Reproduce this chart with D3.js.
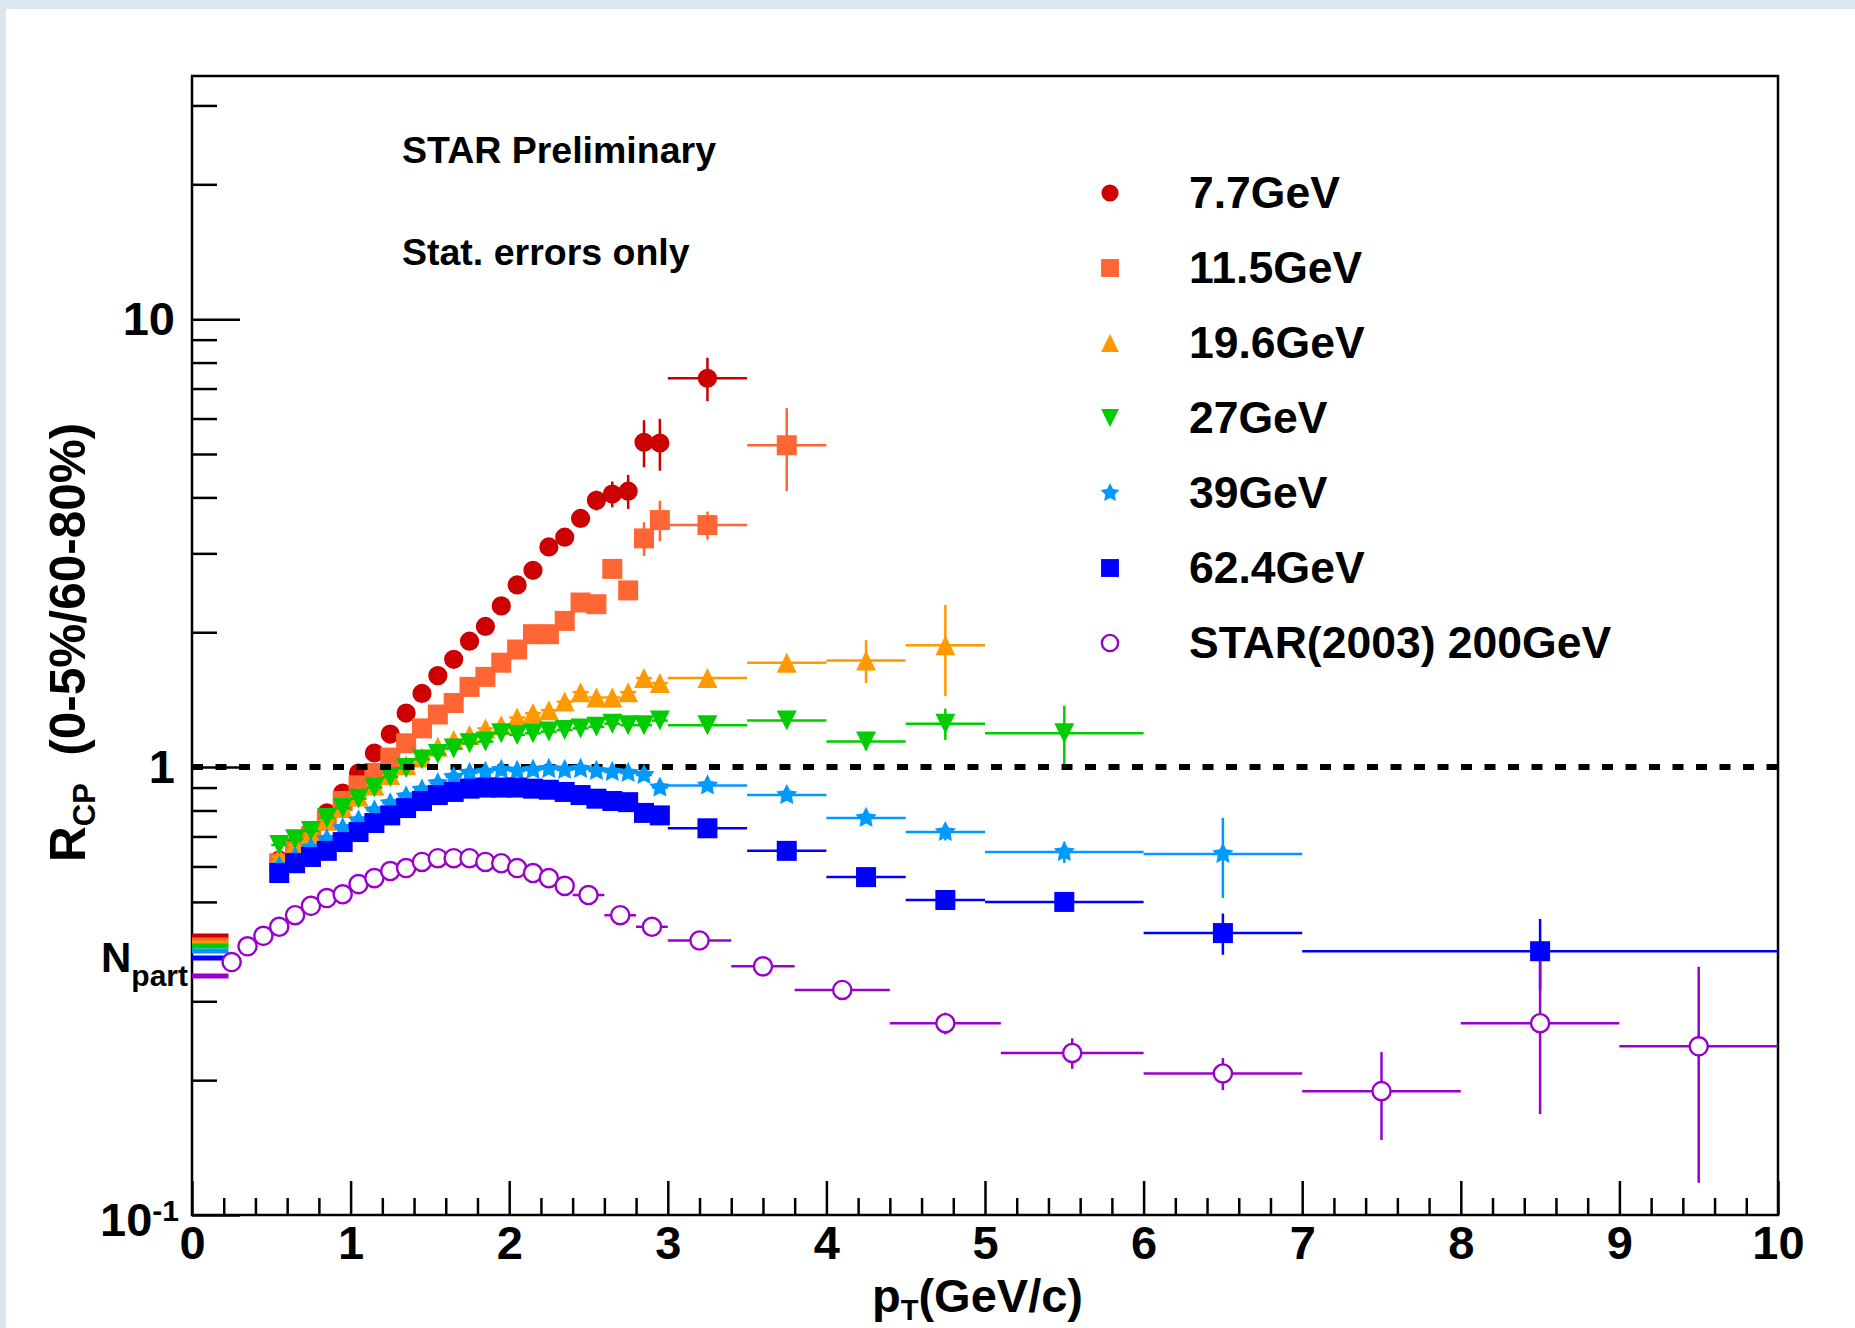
<!DOCTYPE html>
<html>
<head>
<meta charset="utf-8">
<title>R_CP vs pT</title>
<script src="https://cdnjs.cloudflare.com/ajax/libs/d3/7.8.5/d3.min.js"></script>
<style>
  body { margin: 0; background: #fff; }
  svg { display: block; font-family: "Liberation Sans", Arial, Helvetica, sans-serif; font-weight: bold; }
  .pre { white-space: pre; }
</style>
</head>
<body>
<div id="chart"></div>
<script>

// pT bin centres and half widths for the BES energies
var ptBES = [0.55, 0.65, 0.75, 0.85, 0.95, 1.05, 1.15, 1.25, 1.35, 1.45, 1.55, 1.65, 1.75, 1.85, 1.95,
             2.05, 2.15, 2.25, 2.35, 2.45, 2.55, 2.65, 2.75, 2.85, 2.95, 3.25, 3.75, 4.25, 4.75, 5.5, 6.5, 8.5];
var exBES = [0.05, 0.05, 0.05, 0.05, 0.05, 0.05, 0.05, 0.05, 0.05, 0.05, 0.05, 0.05, 0.05, 0.05, 0.05,
             0.05, 0.05, 0.05, 0.05, 0.05, 0.05, 0.05, 0.05, 0.05, 0.05, 0.25, 0.25, 0.25, 0.25, 0.5, 0.5, 1.5];

var rcp77  = [0.62, 0.67, 0.72, 0.79, 0.875, 0.97, 1.075, 1.185, 1.32, 1.46, 1.60, 1.74, 1.91, 2.06, 2.29,
              2.55, 2.75, 3.10, 3.26, 3.59, 3.94, 4.07, 4.13, 5.31, 5.29, 7.38];
var err77  = [0.01, 0.01, 0.01, 0.012, 0.013, 0.015, 0.017, 0.02, 0.022, 0.025, 0.03, 0.033, 0.04, 0.045, 0.05,
              0.06, 0.07, 0.08, 0.1, 0.13, 0.2, 0.27, 0.36, 0.64, 0.7, 0.82];

var rcp115 = [0.61, 0.65, 0.70, 0.76, 0.84, 0.91, 0.97, 1.05, 1.13, 1.22, 1.31, 1.39, 1.51, 1.59, 1.71,
              1.83, 1.98, 1.98, 2.12, 2.33, 2.31, 2.77, 2.48, 3.24, 3.56, 3.47, 5.23];
var err115 = [0.01, 0.01, 0.01, 0.01, 0.012, 0.013, 0.015, 0.017, 0.02, 0.022, 0.025, 0.028, 0.03, 0.035, 0.04,
              0.045, 0.05, 0.06, 0.07, 0.08, 0.09, 0.1, 0.12, 0.28, 0.37, 0.25, 1.1];

var rcp196 = [0.63, 0.67, 0.71, 0.76, 0.81, 0.86, 0.91, 0.96, 1.01, 1.05, 1.11, 1.15, 1.18, 1.22, 1.24,
              1.29, 1.32, 1.34, 1.40, 1.47, 1.43, 1.43, 1.47, 1.58, 1.54, 1.58, 1.71, 1.73, 1.87];
var err196 = [0.008, 0.008, 0.008, 0.009, 0.009, 0.01, 0.01, 0.011, 0.012, 0.013, 0.014, 0.015, 0.016, 0.017, 0.018,
              0.02, 0.022, 0.024, 0.026, 0.03, 0.032, 0.035, 0.04, 0.045, 0.05, 0.04, 0.06, 0.19, 0.43];

var rcp27  = [0.67, 0.69, 0.72, 0.77, 0.81, 0.85, 0.90, 0.95, 0.995, 1.04, 1.07, 1.10, 1.13, 1.14, 1.19,
              1.18, 1.19, 1.20, 1.21, 1.22, 1.23, 1.25, 1.24, 1.24, 1.27, 1.24, 1.27, 1.14, 1.25, 1.19];
var err27  = [0.006, 0.006, 0.006, 0.007, 0.007, 0.008, 0.008, 0.009, 0.009, 0.01, 0.01, 0.011, 0.012, 0.012, 0.013,
              0.014, 0.015, 0.016, 0.017, 0.018, 0.02, 0.022, 0.024, 0.026, 0.03, 0.025, 0.035, 0.05, 0.1, 0.18];

var rcp39  = [0.60, 0.63, 0.66, 0.69, 0.73, 0.76, 0.80, 0.83, 0.86, 0.89, 0.92, 0.95, 0.97, 0.975, 0.985,
              0.98, 0.985, 0.99, 0.985, 0.99, 0.98, 0.975, 0.97, 0.96, 0.90, 0.91, 0.866, 0.77, 0.716, 0.646, 0.64];
var err39  = [0.005, 0.005, 0.005, 0.005, 0.005, 0.005, 0.005, 0.006, 0.006, 0.006, 0.006, 0.007, 0.007, 0.007, 0.008,
              0.008, 0.008, 0.009, 0.009, 0.01, 0.01, 0.011, 0.012, 0.013, 0.014, 0.012, 0.015, 0.02, 0.03, 0.035, 0.13];

var rcp624 = [0.58, 0.61, 0.63, 0.65, 0.68, 0.716, 0.75, 0.78, 0.81, 0.84, 0.866, 0.88, 0.895, 0.90, 0.90,
              0.90, 0.895, 0.89, 0.88, 0.866, 0.85, 0.84, 0.835, 0.79, 0.78, 0.73, 0.65, 0.568, 0.505, 0.50, 0.426, 0.388];
var err624 = [0.004, 0.004, 0.004, 0.004, 0.004, 0.004, 0.005, 0.005, 0.005, 0.005, 0.005, 0.006, 0.006, 0.006, 0.006,
              0.007, 0.007, 0.007, 0.008, 0.008, 0.008, 0.009, 0.009, 0.01, 0.01, 0.01, 0.012, 0.014, 0.016, 0.018, 0.045, 0.07];

// STAR 2003, 200 GeV
var pt200  = [0.25, 0.35, 0.45, 0.55, 0.65, 0.75, 0.85, 0.95, 1.05, 1.15, 1.25, 1.35, 1.45, 1.55, 1.65, 1.75, 1.85,
              1.95, 2.05, 2.15, 2.25, 2.35, 2.5, 2.7, 2.9, 3.2, 3.6, 4.1, 4.75, 5.55, 6.5, 7.5, 8.5, 9.5];
var ex200  = [0.05, 0.05, 0.05, 0.05, 0.05, 0.05, 0.05, 0.05, 0.05, 0.05, 0.05, 0.05, 0.05, 0.05, 0.05, 0.05, 0.05,
              0.05, 0.05, 0.05, 0.05, 0.05, 0.1, 0.1, 0.1, 0.2, 0.2, 0.3, 0.35, 0.45, 0.5, 0.5, 0.5, 0.5];
var rcp200 = [0.367, 0.398, 0.42, 0.44, 0.467, 0.49, 0.51, 0.52, 0.548, 0.565, 0.586, 0.595, 0.614, 0.626, 0.626, 0.626, 0.614,
              0.61, 0.595, 0.58, 0.565, 0.543, 0.518, 0.467, 0.44, 0.41, 0.359, 0.318, 0.268, 0.230, 0.207, 0.189, 0.268, 0.238];
var err200 = [0.006, 0.006, 0.006, 0.006, 0.006, 0.006, 0.006, 0.006, 0.006, 0.006, 0.006, 0.007, 0.007, 0.007, 0.007, 0.007, 0.007,
              0.008, 0.008, 0.008, 0.008, 0.009, 0.01, 0.012, 0.012, 0.012, 0.014, 0.014, 0.015, 0.018, 0.017, 0.042, 0.1, 0.12];

// Npart scaling levels shown on the left edge
var npart = [0.4195, 0.411, 0.4047, 0.3984, 0.3883, 0.3746, 0.3415];

var labels = ["7.7GeV", "11.5GeV", "19.6GeV", "27GeV", "39GeV", "62.4GeV", "STAR(2003) 200GeV"];
var xTicks = [0, 1, 2, 3, 4, 5, 6, 7, 8, 9, 10];
var yTicks = [0.1, 1, 10];
var yMinor = [0.2, 0.3, 0.4, 0.5, 0.6, 0.7, 0.8, 0.9, 2, 3, 4, 5, 6, 7, 8, 9, 20, 30];

var W = 1855, H = 1328;
var x = d3.scaleLinear().domain([0, 10]).range([192, 1778]);
var y = d3.scaleLog().domain([0.1, 34.9]).range([1215, 76]);

// ROOT style markers: triangles with width == height, a fat five point star
var triUp = { draw: function (ctx, size) {
  var r = Math.sqrt(size) / 2;
  ctx.moveTo(-r, r); ctx.lineTo(r, r); ctx.lineTo(0, -r); ctx.closePath();
}};
var triDown = { draw: function (ctx, size) {
  var r = Math.sqrt(size) / 2;
  ctx.moveTo(-r, -r); ctx.lineTo(r, -r); ctx.lineTo(0, r); ctx.closePath();
}};
var fatStar = { draw: function (ctx, size) {
  var r = Math.sqrt(size) / 2, ri = r * 0.5;
  for (var k = 0; k < 10; k++) {
    var a = -Math.PI / 2 + k * Math.PI / 5, rr = k % 2 ? ri : r;
    if (k === 0) ctx.moveTo(rr * Math.cos(a), rr * Math.sin(a));
    else ctx.lineTo(rr * Math.cos(a), rr * Math.sin(a));
  }
  ctx.closePath();
}};

var series = [
  { label: labels[0], pt: ptBES, ex: exBES, v: rcp77,  ey: err77,  color: "#cc0000", type: d3.symbolCircle, size: 290 },
  { label: labels[1], pt: ptBES, ex: exBES, v: rcp115, ey: err115, color: "#ff6633", type: d3.symbolSquare, size: 400 },
  { label: labels[2], pt: ptBES, ex: exBES, v: rcp196, ey: err196, color: "#ff9900", type: triUp,   size: 400 },
  { label: labels[3], pt: ptBES, ex: exBES, v: rcp27,  ey: err27,  color: "#00cc00", type: triDown, size: 400 },
  { label: labels[4], pt: ptBES, ex: exBES, v: rcp39,  ey: err39,  color: "#0099ff", type: fatStar, size: 500 },
  { label: labels[5], pt: ptBES, ex: exBES, v: rcp624, ey: err624, color: "#0000ff", type: d3.symbolSquare, size: 400 },
  { label: labels[6], pt: pt200, ex: ex200, v: rcp200, ey: err200, color: "#9900cc", type: d3.symbolCircle, size: 260, open: true }
];

var svg = d3.select("#chart").append("svg")
    .attr("width", W)
    .attr("height", H);

svg.append("rect").attr("width", W).attr("height", H).attr("fill", "#dce6f1");
svg.append("rect").attr("x", 6).attr("y", 9).attr("width", W - 6).attr("height", H - 9).attr("fill", "#ffffff");

// axes
function styleAxis(g) {
  g.select(".domain").remove();
  g.selectAll(".tick line").attr("stroke", "#000").attr("stroke-width", 2.5);
  g.selectAll(".tick text").attr("fill", "#000").style("font-size", "47px");
}

svg.append("g")
    .attr("transform", "translate(0,1215)")
    .call(d3.axisBottom(x).tickValues(d3.range(0, 10.001, 0.2).filter(function (d) {
      return Math.abs(d - Math.round(d)) > 0.01; })).tickSize(-17).tickFormat(""))
    .call(styleAxis);

svg.append("g")
    .attr("transform", "translate(0,1215)")
    .call(d3.axisBottom(x).tickValues(xTicks).tickSize(-34).tickPadding(11).tickFormat(d3.format("d")))
    .call(styleAxis);

svg.append("g")
    .attr("transform", "translate(192,0)")
    .call(d3.axisLeft(y).tickValues(yMinor).tickSize(-25).tickFormat(""))
    .call(styleAxis);

svg.append("g")
    .attr("transform", "translate(192,0)")
    .call(d3.axisLeft(y).tickValues(yTicks).tickSize(-48).tickPadding(17)
      .tickFormat(function (d) { return d < 1 ? "" : d3.format("d")(d); }))
    .call(styleAxis);

// 10^-1 label
var lab01 = svg.append("text")
    .attr("x", 100)
    .attr("y", 1236)
    .style("font-size", "47px");
lab01.append("tspan").text("10");
lab01.append("tspan").attr("dy", -15).style("font-size", "30px").text("-1");

// frame
svg.append("rect")
    .attr("x", x(0)).attr("y", y.range()[1])
    .attr("width", x(10) - x(0)).attr("height", y.range()[0] - y.range()[1])
    .attr("fill", "none").attr("stroke", "#000").attr("stroke-width", 2.5);

// Npart levels
svg.selectAll(".npart")
    .data(npart)
    .enter().append("line")
    .attr("x1", x(0)).attr("x2", x(0.23))
    .attr("y1", function (d) { return y(d); })
    .attr("y2", function (d) { return y(d); })
    .attr("stroke", function (d, i) { return series[i].color; })
    .attr("stroke-width", 5);

function drawSeries(s) {
  var pts = s.v.map(function (v, i) { return { pt: s.pt[i], ex: s.ex[i], v: v, ey: s.ey[i] }; });
  var g = svg.append("g");

  g.selectAll(".ex").data(pts).enter().append("line")
      .attr("x1", function (d) { return x(d.pt - d.ex); })
      .attr("x2", function (d) { return x(d.pt + d.ex); })
      .attr("y1", function (d) { return y(d.v); })
      .attr("y2", function (d) { return y(d.v); })
      .attr("stroke", s.color).attr("stroke-width", 2.5);

  g.selectAll(".ey").data(pts).enter().append("line")
      .attr("x1", function (d) { return x(d.pt); })
      .attr("x2", function (d) { return x(d.pt); })
      .attr("y1", function (d) { return y(d.v + d.ey); })
      .attr("y2", function (d) { return y(d.v - d.ey); })
      .attr("stroke", s.color).attr("stroke-width", 2.5);

  g.selectAll(".marker").data(pts).enter().append("path")
      .attr("d", d3.symbol().type(s.type).size(s.size))
      .attr("transform", function (d) { return "translate(" + x(d.pt) + "," + y(d.v) + ")"; })
      .attr("fill", s.open ? "#fff" : s.color)
      .attr("stroke", s.open ? s.color : "none")
      .attr("stroke-width", 2.4);
}

series.slice(0, 4).forEach(drawSeries);

// reference line at R_CP = 1
svg.append("line")
    .attr("x1", x(0)).attr("x2", x(10))
    .attr("y1", y(1)).attr("y2", y(1))
    .attr("stroke", "#000")
    .attr("stroke-width", 6)
    .attr("stroke-dasharray", "11 12.5");

series.slice(4).forEach(drawSeries);

// legend
var legend = svg.append("g");
series.forEach(function (s, i) {
  var cy = 193 + i * 75;
  legend.append("path")
      .attr("d", d3.symbol().type(s.type).size(s.size * 0.8))
      .attr("transform", "translate(1110," + cy + ")")
      .attr("fill", s.open ? "#fff" : s.color)
      .attr("stroke", s.open ? s.color : "none")
      .attr("stroke-width", 2.4);
  legend.append("text")
      .attr("x", 1189)
      .attr("y", cy + 15)
      .style("font-size", "44.5px")
      .text(s.label);
});

svg.append("text").attr("x", 402).attr("y", 163).style("font-size", "37.5px").text("STAR Preliminary");
svg.append("text").attr("x", 402).attr("y", 265).style("font-size", "37.5px").text("Stat. errors only");

// y title
var yt = svg.append("text")
    .attr("class", "pre")
    .attr("transform", "translate(85,862) rotate(-90)")
    .style("font-size", "49.5px");
yt.append("tspan").text("R");
yt.append("tspan").attr("dy", 10).style("font-size", "31px").text("CP");
yt.append("tspan").attr("dy", -10).text("  (0-5%/60-80%)");

// x title
var xt = svg.append("text")
    .attr("x", 872)
    .attr("y", 1312)
    .style("font-size", "47px");
xt.append("tspan").text("p");
xt.append("tspan").attr("dy", 8).style("font-size", "29px").text("T");
xt.append("tspan").attr("dy", -8).text("(GeV/c)");

// Npart label
var np = svg.append("text")
    .attr("x", 101)
    .attr("y", 972)
    .style("font-size", "42px");
np.append("tspan").text("N");
np.append("tspan").attr("dy", 14).style("font-size", "30px").text("part");

</script>
</body>
</html>
